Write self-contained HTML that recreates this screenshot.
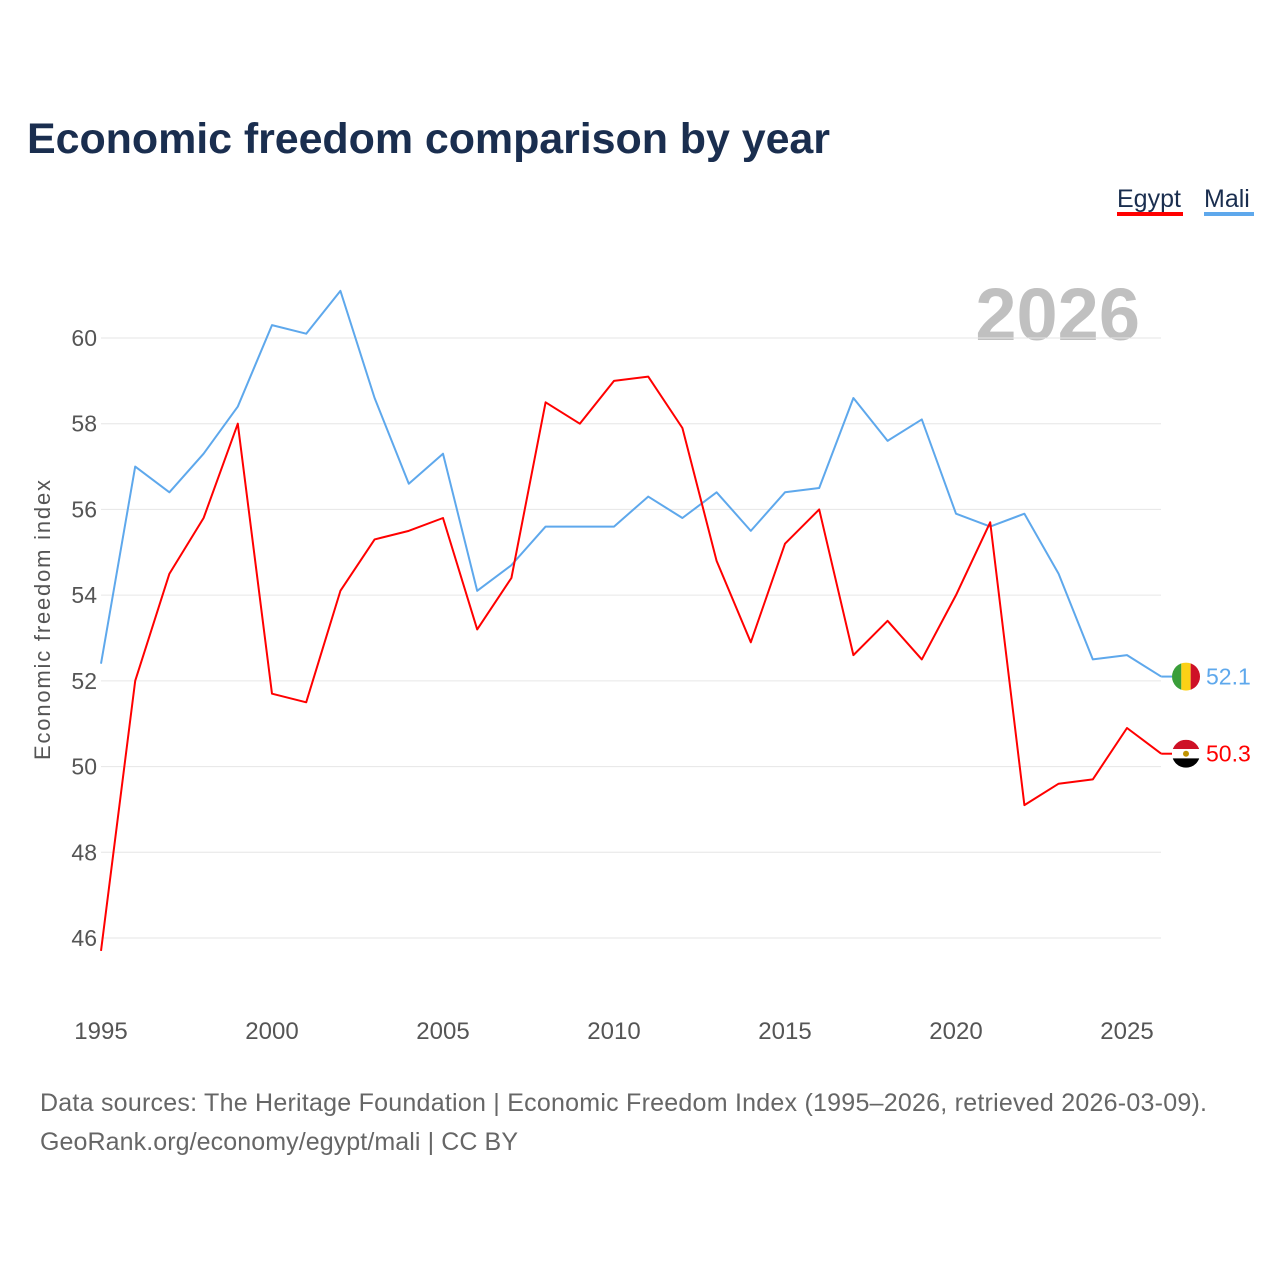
<!DOCTYPE html>
<html><head><meta charset="utf-8"><style>
body{margin:0;background:#fff;font-family:"Liberation Sans",sans-serif;}
</style></head><body>
<svg width="1280" height="1280" viewBox="0 0 1280 1280" xmlns="http://www.w3.org/2000/svg" font-family="Liberation Sans, sans-serif">
<text x="27" y="153" font-size="43" font-weight="bold" fill="#1a2e4f" textLength="803">Economic freedom comparison by year</text>
<g><text x="1117" y="207" font-size="25" fill="#1a2e4f">Egypt</text><rect x="1117" y="212" width="66" height="4" fill="#ff0000"/></g>
<g><text x="1204" y="207" font-size="25" fill="#1a2e4f">Mali</text><rect x="1204" y="212" width="50" height="4" fill="#5ea8ec"/></g>
<text x="1140" y="340" font-size="74" font-weight="bold" fill="#c0c0c0" text-anchor="end">2026</text>
<g id="grid"></g>
<g id="yt"></g>
<g id="xt"></g>
<text transform="translate(50,620) rotate(-90)" font-size="22" fill="#555" text-anchor="middle" textLength="280">Economic freedom index</text>
<g id="lines"></g>
<text x="40" y="1111" font-size="25" fill="#666" textLength="1167">Data sources: The Heritage Foundation | Economic Freedom Index (1995–2026, retrieved 2026-03-09).</text>
<text x="40" y="1150" font-size="25" fill="#666" textLength="478">GeoRank.org/economy/egypt/mali | CC BY</text>
</svg>
<script>
const years=[];for(let y=1995;y<=2026;y++)years.push(y);
const egypt=[45.7,52.0,54.5,55.8,58.0,51.7,51.5,54.1,55.3,55.5,55.8,53.2,54.4,58.5,58.0,59.0,59.1,57.9,54.8,52.9,55.2,56.0,52.6,53.4,52.5,54.0,55.7,49.1,49.6,49.7,50.9,50.3];
const mali=[52.4,57.0,56.4,57.3,58.4,60.3,60.1,61.1,58.6,56.6,57.3,54.1,54.7,55.6,55.6,55.6,56.3,55.8,56.4,55.5,56.4,56.5,58.6,57.6,58.1,55.9,55.6,55.9,54.5,52.5,52.6,52.1];
const yTicks=[46,48,50,52,54,56,58,60];
const xTicks=[1995,2000,2005,2010,2015,2020,2025];
const NS="http://www.w3.org/2000/svg";
const X=v=>101+(v-1995)*34.2;
const Y=v=>338+(60-v)*42.857;
function mk(t,a,p){const e=document.createElementNS(NS,t);for(const k in a)e.setAttribute(k,a[k]);p.appendChild(e);return e;}
const grid=document.getElementById('grid'),yt=document.getElementById('yt'),xt=document.getElementById('xt'),lines=document.getElementById('lines');
yTicks.forEach(v=>{
 const l=mk('line',{x1:101,x2:1161,y1:Y(v),y2:Y(v),stroke:'#e6e6e6','stroke-width':1},grid);
 
 
 const t=mk('text',{x:97,y:Y(v)+8,'font-size':23,fill:'#555','text-anchor':'end'},yt);t.textContent=v;
 
 
});
xTicks.forEach(v=>{
 const t=mk('text',{x:X(v),y:1039,'font-size':24,fill:'#555','text-anchor':'middle'},xt);t.textContent=v;
 
 
});
function series(vals,color,name){
 const p=mk('polyline',{points:vals.map((v,i)=>X(years[i])+','+Y(v)).join(' '),fill:'none',stroke:color,'stroke-width':2,'stroke-linejoin':'round'},lines);
 
 
 const last=vals[vals.length-1],cy=Y(last);
 mk('line',{x1:X(2026),x2:1172,y1:cy,y2:cy,stroke:color,'stroke-width':2},lines);
 const g=mk('g',{},lines);
 
 
 const cx=1186,r=14;
 const cp=mk('clipPath',{id:'c'+name},g);mk('circle',{cx:cx,cy:cy,r:r},cp);
 const gg=mk('g',{'clip-path':'url(#c'+name+')'},g);
 if(name==='mali'){
  mk('rect',{x:cx-r,y:cy-r,width:r*2/3,height:2*r,fill:'#3a9e3a'},gg);
  mk('rect',{x:cx-r/3,y:cy-r,width:r*2/3,height:2*r,fill:'#fcd116'},gg);
  mk('rect',{x:cx+r/3,y:cy-r,width:r*2/3,height:2*r,fill:'#ce1126'},gg);
 }else{
  mk('rect',{x:cx-r,y:cy-r,width:2*r,height:2*r/3,fill:'#ce1126'},gg);
  mk('rect',{x:cx-r,y:cy-r/3,width:2*r,height:2*r/3,fill:'#fff'},gg);
  mk('rect',{x:cx-r,y:cy+r/3,width:2*r,height:2*r/3,fill:'#000'},gg);
  mk('circle',{cx:cx,cy:cy,r:3,fill:'#c09300'},gg);
 }
 const t=mk('text',{x:1206,y:cy+8,'font-size':23,fill:color},lines);t.textContent=last.toFixed(1);
 
 
}
series(mali,'#5ea8ec','mali');
series(egypt,'#ff0000','egypt');
</script>
</body></html>
